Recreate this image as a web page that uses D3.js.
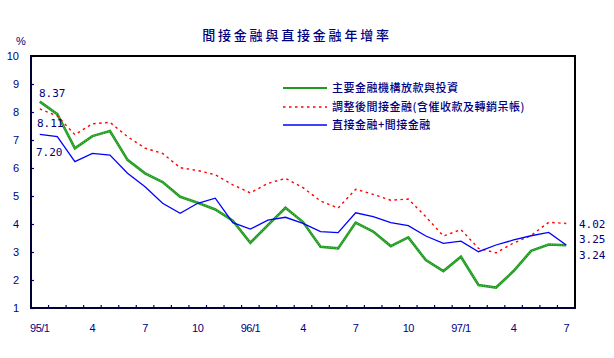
<!DOCTYPE html>
<html><head><meta charset="utf-8">
<script src="https://cdn.jsdelivr.net/npm/d3@7/dist/d3.min.js"></script>
<style>
html,body{margin:0;padding:0;background:#fff;}
svg{display:block;}
</style></head>
<body>
<svg id="chart" width="614" height="358"></svg>
<script>
const categories = ["95/1","95/2","95/3","95/4","95/5","95/6","95/7","95/8","95/9","95/10","95/11","95/12",
  "96/1","96/2","96/3","96/4","96/5","96/6","96/7","96/8","96/9","96/10","96/11","96/12",
  "97/1","97/2","97/3","97/4","97/5","97/6","97/7"];
const tickCats = ["95/1","95/4","95/7","95/10","96/1","96/4","96/7","96/10","97/1","97/4","97/7"];
const tickText = ["95/1","4","7","10","96/1","4","7","10","97/1","4","7"];
const yTicks = [1,2,3,4,5,6,7,8,9,10];
const seriesNames = ["主要金融機構放款與投資","調整後間接金融(含催收款及轉銷呆帳)","直接金融+間接金融"];
const loans = [8.37,7.92,6.70,7.14,7.32,6.29,5.81,5.50,4.97,4.76,4.52,4.12,3.33,3.96,4.58,4.07,3.19,3.13,4.05,3.73,3.21,3.52,2.71,2.32,2.83,1.82,1.73,2.32,3.04,3.27,3.24];
const adjusted = [8.11,7.86,7.19,7.58,7.63,7.12,6.71,6.52,6.01,5.91,5.76,5.40,5.11,5.45,5.63,5.30,4.82,4.57,5.24,5.06,4.85,4.89,4.26,3.57,3.80,3.13,2.97,3.32,3.59,4.06,4.02];
const total = [7.20,7.12,6.23,6.52,6.46,5.81,5.33,4.74,4.38,4.74,4.92,4.05,3.82,4.14,4.24,4.02,3.73,3.69,4.40,4.26,4.05,3.94,3.57,3.31,3.39,3.01,3.25,3.43,3.58,3.70,3.25];
const startLabels = ["8.37","8.11","7.20"];
const endLabels = ["4.02","3.25","3.24"];

const navy = "#000080";
const svg = d3.select("#chart");
const L = 31, R = 575, T = 56, B = 308;
const x = d3.scaleBand().domain(categories).range([L, R]);
const y = d3.scaleLinear().domain([1, 10]).range([B, T]);
const cx = c => x(c) + x.bandwidth() / 2;

// title
svg.append("text").attr("x", 297).attr("y", 40).attr("text-anchor", "middle")
  .attr("font-family", "Noto Sans CJK TC").attr("font-size", 13).attr("letter-spacing", 2.8)
  .attr("font-weight", 500).attr("fill", navy).text("間接金融與直接金融年增率");

// % label
svg.append("text").attr("x", 21).attr("y", 45).attr("text-anchor", "middle")
  .attr("font-family", "Liberation Sans").attr("font-size", 11).attr("fill", navy).text("%");

// y axis
const yAxis = d3.axisRight(y).tickValues(yTicks).tickSize(3).tickFormat("");
const gy = svg.append("g").attr("transform", `translate(${L},0)`).call(yAxis);
gy.select(".domain").remove();
gy.selectAll("line").attr("stroke", navy).attr("stroke-width", 1.2);
svg.append("g").selectAll("text").data(yTicks).join("text")
  .attr("x", 19).attr("y", d => y(d) + 4).attr("text-anchor", "end")
  .attr("font-family", "Liberation Sans").attr("font-size", 11).attr("fill", navy).text(d => d);

// x axis ticks at band boundaries
const boundaries = categories.slice(1);
const gx = svg.append("g");
gx.selectAll("line").data(boundaries).join("line")
  .attr("x1", d => x(d)).attr("x2", d => x(d)).attr("y1", B).attr("y2", B - 3)
  .attr("stroke", navy).attr("stroke-width", 1.2);
const xAxis = d3.axisBottom(x).tickValues(tickCats).tickSize(0)
  .tickFormat(d => tickText[tickCats.indexOf(d)]);
const gxl = svg.append("g").attr("transform", `translate(0,${B + 13})`).call(xAxis);
gxl.select(".domain").remove();
gxl.selectAll("text").attr("font-family", "Liberation Sans").attr("font-size", 11)
  .attr("fill", navy).attr("letter-spacing", -0.5);

// series lines
const line = d3.line().x((d, i) => cx(categories[i])).y(d => y(d));
svg.append("path").datum(loans).attr("d", line).attr("fill", "none")
  .attr("stroke", "#1e9a1e").attr("stroke-width", 2.6);
svg.append("path").datum(loans).attr("d", line).attr("fill", "none")
  .attr("stroke", "#7fd07f").attr("stroke-width", 0.8).attr("stroke-dasharray", "1,1.5");
svg.append("path").datum(adjusted).attr("d", line).attr("fill", "none")
  .attr("stroke", "#ff0000").attr("stroke-width", 1.4).attr("stroke-dasharray", "2.5,3.5");
svg.append("path").datum(total).attr("d", line).attr("fill", "none")
  .attr("stroke", "#0000ff").attr("stroke-width", 1.3);

// frame
svg.append("line").attr("x1", L - 1).attr("x2", R + 1).attr("y1", T).attr("y2", T).attr("stroke", "#000").attr("stroke-width", 2);
svg.append("line").attr("x1", R).attr("x2", R).attr("y1", T).attr("y2", B).attr("stroke", "#000").attr("stroke-width", 2);
svg.append("line").attr("x1", L).attr("x2", L).attr("y1", T).attr("y2", B + 1).attr("stroke", "#000033").attr("stroke-width", 2);
svg.append("line").attr("x1", L - 1).attr("x2", R + 1).attr("y1", B).attr("y2", B).attr("stroke", "#000033").attr("stroke-width", 2);

// legend
const legY = [88, 107, 125];
const legStyles = [
  {stroke: "#1e9a1e", w: 2.2, dash: null},
  {stroke: "#ff0000", w: 1.4, dash: "2.5,3.5"},
  {stroke: "#0000ff", w: 1.3, dash: null}
];
seriesNames.forEach((n, i) => {
  const ln = svg.append("line").attr("x1", 283).attr("x2", 327).attr("y1", legY[i]).attr("y2", legY[i])
    .attr("stroke", legStyles[i].stroke).attr("stroke-width", legStyles[i].w);
  if (legStyles[i].dash) ln.attr("stroke-dasharray", legStyles[i].dash);
  svg.append("text").attr("x", 332).attr("y", legY[i] + 4)
    .attr("font-family", "Noto Sans CJK TC").attr("font-size", 11).attr("font-weight", 500)
    .attr("letter-spacing", 0.5).attr("fill", navy).text(n);
});

// value labels
const startY = [97, 127, 156];
const startX = [39, 37, 36];
startLabels.forEach((t, i) => {
  svg.append("text").attr("x", startX[i]).attr("y", startY[i])
    .attr("font-family", "DejaVu Sans Mono").attr("font-size", 11).attr("fill", navy).text(t);
});
const endY = [228, 243, 259];
endLabels.forEach((t, i) => {
  svg.append("text").attr("x", 579).attr("y", endY[i])
    .attr("font-family", "DejaVu Sans Mono").attr("font-size", 11).attr("fill", navy).text(t);
});
</script>
</body></html>
